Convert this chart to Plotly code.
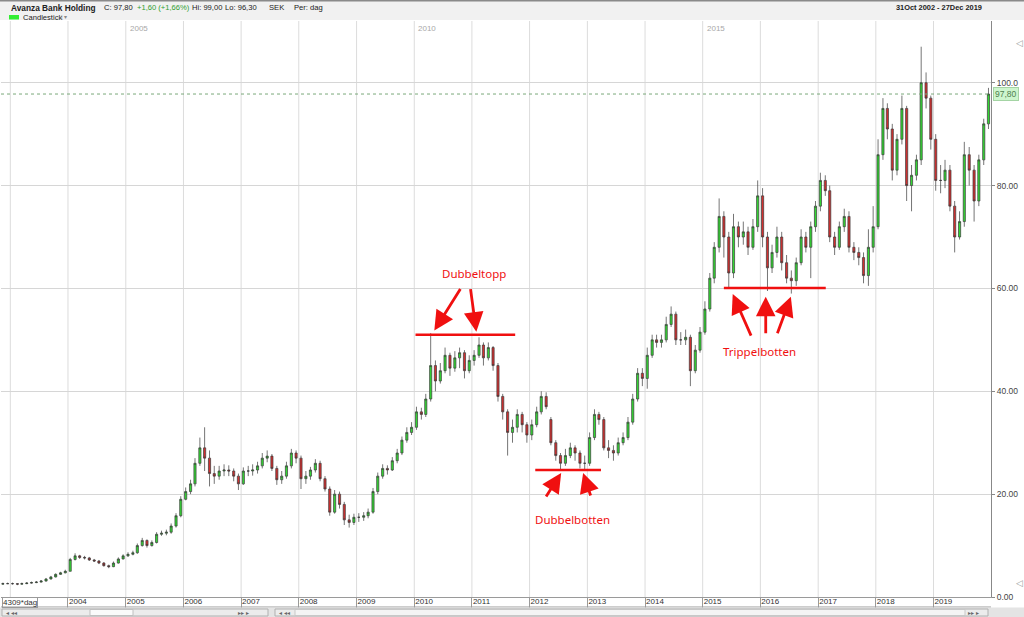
import pandas as pd
import plotly.graph_objects as go

# ---------------- DATA (monthly OHLC, SEK) ----------------
o2002 = [2.5, 2.6]
h2002 = [2.8, 2.8]
l2002 = [2.4, 2.5]
c2002 = [2.6, 2.6]

o2003 = [2.6, 2.6, 2.5, 2.6, 2.7, 2.8, 2.9, 3.1, 3.5, 3.9, 4.4, 4.7]
h2003 = [2.8, 2.7, 2.8, 2.9, 3.0, 3.1, 3.3, 3.7, 4.1, 4.6, 4.9, 5.3]
l2003 = [2.4, 2.3, 2.4, 2.5, 2.6, 2.7, 2.8, 3.0, 3.4, 3.8, 4.3, 4.6]
c2003 = [2.6, 2.5, 2.6, 2.7, 2.8, 2.9, 3.1, 3.5, 3.9, 4.4, 4.7, 5.0]

o2004 = [5.0, 7.3, 8.0, 7.7, 7.6, 7.2, 7.0, 6.6, 6.1, 5.9, 6.6, 7.4]
h2004 = [7.6, 8.5, 8.2, 8.0, 7.8, 7.4, 7.2, 6.8, 6.3, 6.9, 7.7, 8.3]
l2004 = [5.0, 7.1, 7.4, 7.3, 7.0, 6.8, 6.4, 5.9, 5.6, 5.8, 6.5, 7.3]
c2004 = [7.3, 8.0, 7.7, 7.6, 7.2, 7.0, 6.6, 6.1, 5.9, 6.6, 7.4, 8.0]

o2005 = [8.0, 8.3, 8.6, 10.0, 11.0, 10.0, 10.6, 12.2, 12.4, 12.6, 13.8, 15.8]
h2005 = [8.7, 9.0, 10.4, 11.5, 11.2, 11.0, 12.6, 12.9, 13.1, 14.3, 16.3, 19.6]
l2005 = [7.8, 8.1, 8.4, 9.8, 9.6, 9.8, 10.4, 11.9, 12.0, 12.3, 13.5, 15.5]
c2005 = [8.3, 8.6, 10.0, 11.0, 10.0, 10.6, 12.2, 12.4, 12.6, 13.8, 15.8, 19.0]

o2006 = [19.0, 20.5, 22.0, 26.0, 29.0, 27.0, 24.0, 23.5, 24.5, 24.7, 24.5, 23.5]
h2006 = [21.3, 22.8, 27.0, 31.0, 33.0, 28.5, 25.5, 25.5, 25.8, 25.6, 25.0, 24.0]
l2006 = [18.8, 20.0, 21.5, 25.5, 24.5, 21.5, 22.0, 22.8, 23.5, 23.5, 22.5, 20.8]
c2006 = [20.5, 22.0, 26.0, 29.0, 27.0, 24.0, 23.5, 24.5, 24.7, 24.5, 23.5, 22.0]

o2007 = [22.0, 24.5, 24.5, 24.7, 25.5, 27.0, 27.4, 25.0, 22.8, 23.5, 25.5, 28.0]
h2007 = [25.2, 25.5, 25.8, 26.3, 28.0, 28.5, 27.8, 25.5, 24.5, 26.3, 28.8, 28.5]
l2007 = [21.8, 23.5, 23.6, 24.0, 25.0, 26.2, 24.5, 21.8, 22.0, 23.0, 25.0, 26.0]
c2007 = [24.5, 24.5, 24.7, 25.5, 27.0, 27.4, 25.0, 22.8, 23.5, 25.5, 28.0, 27.0]

o2008 = [27.0, 23.0, 23.5, 24.7, 26.0, 23.0, 21.0, 16.5, 20.0, 18.0, 15.0, 14.5]
h2008 = [27.5, 24.5, 25.3, 26.8, 26.5, 23.5, 21.5, 20.8, 20.5, 18.5, 16.0, 16.2]
l2008 = [21.0, 22.0, 22.8, 24.2, 22.5, 20.5, 15.8, 16.2, 17.2, 14.0, 13.5, 14.0]
c2008 = [23.0, 23.5, 24.7, 26.0, 23.0, 21.0, 16.5, 20.0, 18.0, 15.0, 14.5, 15.5]

o2009 = [15.5, 15.5, 15.8, 16.5, 20.5, 23.5, 25.0, 24.7, 26.5, 28.0, 30.5, 32.0]
h2009 = [16.3, 16.5, 17.2, 21.2, 24.2, 25.8, 25.6, 27.2, 28.8, 31.2, 33.0, 34.0]
l2009 = [14.6, 14.8, 15.3, 16.2, 20.0, 23.0, 23.8, 24.5, 26.0, 27.6, 30.0, 31.5]
c2009 = [15.5, 15.8, 16.5, 20.5, 23.5, 25.0, 24.7, 26.5, 28.0, 30.5, 32.0, 33.0]

o2010 = [33.0, 36.0, 35.5, 38.5, 45.0, 42.0, 44.0, 47.0, 44.5, 46.5, 47.5, 44.0]
h2010 = [37.0, 36.8, 39.5, 51.3, 46.0, 45.5, 48.5, 47.5, 47.8, 48.5, 48.0, 47.0]
l2010 = [32.5, 34.5, 35.0, 38.0, 40.0, 41.5, 43.5, 43.0, 43.8, 44.5, 42.5, 43.5]
c2010 = [36.0, 35.5, 38.5, 45.0, 42.0, 44.0, 47.0, 44.5, 46.5, 47.5, 44.0, 46.0]

o2011 = [46.0, 47.0, 49.0, 46.5, 48.5, 45.0, 39.0, 36.0, 32.0, 33.0, 35.5, 33.5]
h2011 = [48.0, 50.5, 49.5, 49.5, 48.8, 45.5, 39.5, 36.5, 34.5, 36.5, 36.0, 34.0]
l2011 = [45.0, 46.5, 45.0, 46.0, 44.0, 38.0, 34.5, 27.5, 30.0, 32.0, 32.0, 30.0]
c2011 = [47.0, 49.0, 46.5, 48.5, 45.0, 39.0, 36.0, 32.0, 33.0, 35.5, 33.5, 31.5]

o2012 = [31.5, 33.5, 36.0, 39.0, 34.5, 30.0, 27.5, 26.0, 27.5, 29.0, 28.0, 26.0]
h2012 = [34.5, 37.0, 40.0, 39.8, 35.0, 30.5, 28.0, 28.8, 30.0, 29.5, 28.5, 27.5]
l2012 = [30.5, 33.0, 35.5, 36.5, 29.5, 26.5, 24.8, 25.5, 27.0, 26.5, 25.0, 24.8]
c2012 = [33.5, 36.0, 39.0, 37.0, 30.0, 27.5, 26.0, 27.5, 29.0, 28.0, 26.0, 26.0]

o2013 = [26.0, 31.0, 35.5, 34.5, 29.0, 28.5, 28.0, 30.0, 31.0, 34.0, 38.5, 43.5]
h2013 = [32.0, 36.5, 36.0, 35.0, 30.5, 29.5, 31.0, 32.0, 35.0, 39.5, 44.5, 44.5]
l2013 = [25.5, 30.5, 33.5, 28.5, 27.0, 26.5, 27.5, 29.5, 30.5, 33.5, 38.0, 41.0]
c2013 = [31.0, 35.5, 34.5, 29.0, 28.5, 28.0, 30.0, 31.0, 34.0, 38.5, 43.5, 42.5]

o2014 = [42.5, 47.0, 50.0, 49.5, 50.0, 53.0, 55.0, 50.0, 50.0, 50.5, 44.0, 48.0]
h2014 = [48.5, 51.0, 51.0, 51.0, 54.5, 56.5, 55.5, 51.5, 52.0, 51.0, 49.0, 52.5]
l2014 = [40.5, 46.5, 48.5, 48.5, 49.5, 52.5, 49.0, 49.0, 49.0, 41.0, 43.5, 47.5]
c2014 = [47.0, 50.0, 49.5, 50.0, 53.0, 55.0, 50.0, 50.0, 50.5, 44.0, 48.0, 51.5]

o2015 = [51.5, 56.0, 62.0, 68.0, 74.0, 70.0, 63.0, 72.0, 70.0, 71.0, 68.0, 72.0]
h2015 = [57.5, 63.0, 69.0, 77.5, 75.0, 71.0, 74.5, 73.0, 73.0, 72.0, 73.5, 81.0]
l2015 = [51.0, 55.5, 61.0, 67.0, 66.0, 60.0, 62.0, 68.0, 68.5, 66.5, 67.5, 71.0]
c2015 = [56.0, 62.0, 68.0, 74.0, 70.0, 63.0, 72.0, 70.0, 71.0, 68.0, 72.0, 78.0]

o2016 = [78.0, 70.0, 64.0, 67.0, 70.0, 65.0, 62.0, 61.5, 65.0, 70.0, 68.0, 72.0]
h2016 = [79.5, 71.0, 68.5, 72.0, 71.0, 66.5, 63.5, 66.0, 71.5, 71.0, 73.0, 77.0]
l2016 = [68.0, 59.5, 63.0, 66.0, 63.5, 61.0, 59.0, 60.5, 64.5, 67.0, 62.0, 71.0]
c2016 = [70.0, 64.0, 67.0, 70.0, 65.0, 62.0, 61.5, 65.0, 70.0, 68.0, 72.0, 76.0]

o2017 = [76.0, 81.0, 79.0, 70.0, 68.0, 72.0, 74.0, 68.0, 67.0, 66.0, 62.5, 68.0]
h2017 = [82.5, 82.0, 80.0, 71.0, 73.0, 75.5, 75.0, 69.0, 68.0, 67.0, 71.5, 76.0]
l2017 = [75.0, 78.0, 69.0, 66.5, 67.5, 71.0, 67.0, 65.5, 64.5, 61.0, 60.5, 67.0]
c2017 = [81.0, 79.0, 70.0, 68.0, 72.0, 74.0, 68.0, 67.0, 66.0, 62.5, 68.0, 72.0]

o2018 = [72.0, 86.0, 95.0, 91.0, 83.0, 89.0, 95.0, 80.0, 82.0, 85.0, 100.0, 97.0]
h2018 = [89.0, 97.0, 96.0, 92.0, 90.0, 97.5, 95.5, 84.0, 86.0, 107.0, 102.0, 97.5]
l2018 = [71.5, 85.0, 89.0, 81.0, 82.0, 88.0, 77.0, 75.0, 81.0, 84.0, 95.0, 87.0]
c2018 = [86.0, 95.0, 91.0, 83.0, 89.0, 95.0, 80.0, 82.0, 85.0, 100.0, 97.0, 89.0]

o2019 = [89.0, 81.0, 81.0, 83.0, 76.0, 70.0, 73.0, 86.0, 83.0, 77.0, 85.0, 92.0]
h2019 = [90.0, 84.0, 85.0, 84.0, 77.0, 75.0, 88.5, 87.5, 84.0, 86.0, 93.0, 99.0]
l2019 = [79.0, 78.5, 79.5, 75.0, 67.0, 69.5, 72.0, 80.0, 73.0, 76.0, 84.0, 91.0]
c2019 = [81.0, 81.0, 83.0, 76.0, 70.0, 73.0, 86.0, 83.0, 77.0, 85.0, 92.0, 97.8]

years = list(range(2002, 2020))
last_close = 97.80
y_ticks = [0, 20, 40, 60, 80, 100]
y_tick_text = ["0.00", "20.00", "40.00", "60.00", "80.00", "100.0"]
axis_years = list(range(2004, 2020))
top_year_labels = [2005, 2010, 2015]

# pattern levels (SEK)
dubbeltopp_level = 51.0
dubbelbotten_level = 24.7
trippelbotten_level = 60.1

# --------------------------------------------------------------------------
g = globals()
opens, highs, lows, closes = [], [], [], []
for y in years:
    opens += g[f"o{y}"]
    highs += g[f"h{y}"]
    lows += g[f"l{y}"]
    closes += g[f"c{y}"]
dates = [p.to_timestamp() + pd.Timedelta(days=14)
         for p in pd.period_range("2002-11", "2019-12", freq="M")]

W, H = 1024, 617
L_PX, R_PX, T_PX, B_PX = 1, 991, 21, 597


def px(x):
    return (x - L_PX) / (R_PX - L_PX)


def py(y):
    return (B_PX - y) / (B_PX - T_PX)


FONT = "Liberation Sans, Arial, sans-serif"

fig = go.Figure()
fig.add_trace(go.Candlestick(
    x=dates, open=opens, high=highs, low=lows, close=closes,
    increasing=dict(fillcolor="#33d633", line=dict(color="#3a3a3a", width=0.7)),
    decreasing=dict(fillcolor="#d03030", line=dict(color="#3a3a3a", width=0.7)),
    whiskerwidth=0, showlegend=False, hoverinfo="x+y",
))

shapes = []
# header band
shapes.append(dict(type="rect", xref="paper", yref="paper", x0=px(0), x1=px(W),
                   y0=py(20), y1=py(0), fillcolor="#f1f1f1", line=dict(width=0), layer="below"))
shapes.append(dict(type="line", xref="paper", yref="paper", x0=px(0), x1=px(W),
                   y0=py(0.7), y1=py(0.7), line=dict(color="#8a8a8a", width=1.5)))
# yearly vertical grid lines
for yr in range(2003, 2020):
    shapes.append(dict(type="line", xref="x", yref="paper", x0=f"{yr}-01-01", x1=f"{yr}-01-01",
                       y0=0, y1=1, line=dict(color="#dcdcdc", width=1), layer="below"))
# bottom label row and scrollbars
shapes.append(dict(type="line", xref="paper", yref="paper", x0=px(1), x1=px(991),
                   y0=py(607), y1=py(607), line=dict(color="#9a9a9a", width=1)))
shapes.append(dict(type="rect", xref="paper", yref="paper", x0=px(0), x1=px(W),
                   y0=py(617), y1=py(607.5), fillcolor="#e4e4e4", line=dict(width=0)))
shapes.append(dict(type="rect", xref="paper", yref="paper", x0=px(2), x1=px(268),
                   y0=py(616), y1=py(609), fillcolor="#ececec", line=dict(color="#b0b0b0", width=1)))
shapes.append(dict(type="rect", xref="paper", yref="paper", x0=px(90), x1=px(133),
                   y0=py(615.5), y1=py(609.5), fillcolor="#fafafa", line=dict(color="#c0c0c0", width=1)))
shapes.append(dict(type="rect", xref="paper", yref="paper", x0=px(275), x1=px(988),
                   y0=py(616), y1=py(609), fillcolor="#ececec", line=dict(color="#b0b0b0", width=1)))
shapes.append(dict(type="rect", xref="paper", yref="paper", x0=px(295), x1=px(965),
                   y0=py(615.5), y1=py(609.5), fillcolor="#f4f4f4", line=dict(color="#c8c8c8", width=1)))
# last price dotted line
shapes.append(dict(type="line", xref="paper", yref="y", x0=0, x1=1, y0=last_close, y1=last_close,
                   line=dict(color="#7aa87a", width=1, dash="dot")))
# pattern lines
RED = "#f01010"
shapes.append(dict(type="line", xref="x", yref="y", x0="2010-01-09", x1="2011-10-02",
                   y0=dubbeltopp_level, y1=dubbeltopp_level, line=dict(color=RED, width=2.5)))
shapes.append(dict(type="line", xref="x", yref="y", x0="2012-02-06", x1="2013-03-28",
                   y0=dubbelbotten_level, y1=dubbelbotten_level, line=dict(color=RED, width=2.5)))
shapes.append(dict(type="line", xref="x", yref="y", x0="2015-05-15", x1="2017-02-18",
                   y0=trippelbotten_level, y1=trippelbotten_level, line=dict(color=RED, width=2.5)))

ann = []


def text(x, y, s, size=8, color="#222", anchor="left", bold=False, **kw):
    if bold:
        s = f"<b>{s}</b>"
    ann.append(dict(xref="paper", yref="paper", x=px(x), y=py(y), text=s, showarrow=False,
                    xanchor=anchor, yanchor="middle",
                    font=dict(family=FONT, size=size, color=color), **kw))


# header
text(9, 7.5, "Avanza Bank Holding", size=8.3, bold=True)
text(102, 7.5, "C: 97,80", size=7.6)
text(135, 7.5, "+1,60 (+1,66%)", size=7.6, color="#2e9e2e")
text(190, 7.5, "Hi: 99,00", size=7.6)
text(223, 7.5, "Lo: 96,30", size=7.6)
text(267, 7.5, "SEK", size=7.6)
text(292, 7.5, "Per: dag", size=7.6)
text(984, 7.5, "31Oct 2002 - 27Dec 2019", size=7.4, anchor="right", bold=True)
shapes.append(dict(type="rect", xref="paper", yref="paper", x0=px(9), x1=px(19),
                   y0=py(19.5), y1=py(15), fillcolor="#33ee33", line=dict(width=0)))
text(21, 17, "Candlestick", size=7.6)
text(59, 17, "| ▾", size=6, color="#888")

# top year labels inside plot
for yr in top_year_labels:
    ann.append(dict(xref="x", yref="paper", x=f"{yr}-01-01", y=py(28), text=str(yr),
                    showarrow=False, xanchor="left", yanchor="middle", xshift=2,
                    font=dict(family=FONT, size=8, color="#a8a8a8")))

# bottom row "4309*dag"
ann.append(dict(xref="paper", yref="paper", x=px(2), y=py(602), text="4309*dag",
                showarrow=False, xanchor="left", yanchor="middle",
                bordercolor="#9a9a9a", borderwidth=1, borderpad=0,
                font=dict(family=FONT, size=8, color="#333")))
# scrollbar buttons
text(4, 612.5, "◂ ◂◂", size=6, color="#666")
text(236, 612.5, "▸▸ ▸", size=6, color="#666")
text(277, 612.5, "◂ ◂◂", size=6, color="#666")
text(966, 612.5, "▸▸ ▸", size=6, color="#666")

# right side decorations
text(1019, 43, "◁", size=9, color="#999", anchor="center")
text(1019, 583, "◁", size=9, color="#999", anchor="center")
ann.append(dict(xref="paper", yref="y", x=px(993), y=last_close, text="97,80",
                showarrow=False, xanchor="left", yanchor="middle",
                bgcolor="#cdf5cd", bordercolor="#a4d4a4", borderwidth=1, borderpad=1,
                font=dict(family=FONT, size=8.5, color="#4f7f4f")))

# pattern annotations
HAND = "Noto Sans, DejaVu Sans, sans-serif"


def label(xd, yv, s):
    ann.append(dict(xref="x", yref="y", x=xd, y=yv, text=s, showarrow=False,
                    xanchor="center", yanchor="middle",
                    font=dict(family=HAND, size=11.5, color=RED)))


def arrow(xd, yv, ax, ay):
    ann.append(dict(xref="x", yref="y", x=xd, y=yv, text="", showarrow=True,
                    ax=ax, ay=ay, arrowhead=2, arrowsize=1.4, arrowwidth=2.8,
                    arrowcolor=RED, standoff=0))


label("2011-01-16", 63.0, "Dubbeltopp")
arrow("2010-05-08", 51.8, 27, -43)
arrow("2011-01-29", 51.6, -6, -44)
label("2012-09-27", 15.0, "Dubbelbotten")
arrow("2012-07-19", 24.1, -16, 25)
arrow("2012-12-05", 24.1, 8, 24)
label("2015-12-28", 47.7, "Trippelbotten")
arrow("2015-07-10", 58.9, 19, 43)
arrow("2016-02-04", 58.4, 0, 38)
arrow("2016-07-12", 58.4, -14, 38)

fig.update_layout(
    width=W, height=H,
    margin=dict(l=L_PX, r=W - R_PX, t=T_PX, b=H - B_PX, autoexpand=False),
    paper_bgcolor="white", plot_bgcolor="white",
    shapes=shapes, annotations=ann,
    font=dict(family=FONT, size=9, color="#333"),
    xaxis=dict(
        type="date", range=["2002-11-03", "2019-12-31"],
        rangeslider=dict(visible=False),
        showgrid=False, zeroline=False,
        tickvals=[f"{y}-01-01" for y in axis_years],
        ticktext=[str(y) for y in axis_years],
        ticks="outside", ticklen=10, tickcolor="#9a9a9a", tickwidth=1,
        ticklabelposition="outside right", ticklabelstandoff=-4,
        tickfont=dict(family=FONT, size=8, color="#333"),
        showline=True, linecolor="#9a9a9a", linewidth=1,
    ),
    yaxis=dict(
        side="right", range=[0, 112],
        tickvals=y_ticks, ticktext=y_tick_text,
        ticks="outside", ticklen=3, tickcolor="#888",
        tickfont=dict(family=FONT, size=8.5, color="#444"),
        showgrid=True, gridcolor="#d6d6d6", gridwidth=1, zeroline=False,
        showline=True, linecolor="#888", linewidth=1,
    ),
)

fig.write_html("out.html", config={"displayModeBar": False},
               post_script="document.body.style.margin='0px';")
